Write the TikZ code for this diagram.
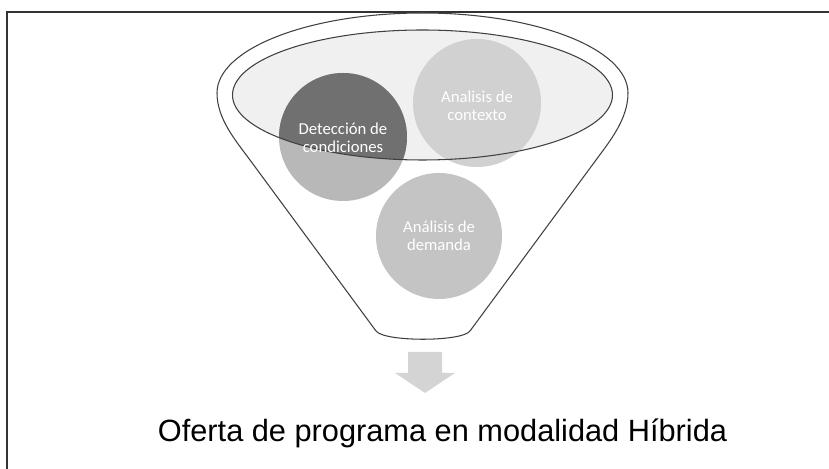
\documentclass[tikz,border=0pt]{standalone}
\usepackage{fontspec}
\setmainfont{Liberation Sans}
\newfontfamily\bubblefont{Carlito}
\definecolor{funnelline}{gray}{0.25}
\definecolor{rimfill}{gray}{0.94}
\definecolor{detdark}{gray}{0.44}
\definecolor{detlight}{gray}{0.72}
\definecolor{ctxfill}{gray}{0.82}
\definecolor{demfill}{gray}{0.77}
\definecolor{arrowfill}{gray}{0.83}

\begin{document}
\begin{tikzpicture}[x=0.02cm, y=0.02cm,
    rim/.style={draw=funnelline, line width=0.6pt},
    bubbletext/.style={text=white, align=center, font=\bubblefont\fontsize{9.5}{10.5}\selectfont}]
    \useasboundingbox (0,0) rectangle (829,469);
    \draw[line width=0.9pt, color=black!80] (7,0) -- (7,457) -- (829,457);
    \draw[rim, fill=white] (217,376) arc (180:0:205.5 and 80)
        .. controls (628,350) and (610,328) .. (596,309)
        -- (470,138) .. controls (462,127) and (384,127) .. (376,138)
        -- (250,309) .. controls (236,328) and (217,350) .. cycle;
    \fill[rimfill] (422.5,374) ellipse (190 and 65);
    \fill[detlight] (343,332) circle (64);
    \begin{scope}
        \clip (422.5,374) ellipse (190 and 65);
        \fill[detdark] (343,332) circle (64);
    \end{scope}
    \fill[ctxfill] (477,366) circle (64);
    \fill[demfill] (439,233) circle (63);
    \draw[rim] (422.5,374) ellipse (190 and 65);
    \node[bubbletext] (det) at (343,331) {Detección de\\condiciones};
    \node[bubbletext] (ctx) at (477,363) {Analisis de\\contexto};
    \node[bubbletext] (dem) at (439,233) {Análisis de\\demanda};
    \fill[arrowfill] (408,117) -- (442,117) -- (442,96) -- (455,96)
        -- (425,76) -- (395,96) -- (408,96) -- cycle;
    \node[anchor=base, font=\fontsize{17.5}{20}\selectfont] (oferta) at (442.5,27)
        {Oferta de programa en modalidad Híbrida};
\end{tikzpicture}
\end{document}
